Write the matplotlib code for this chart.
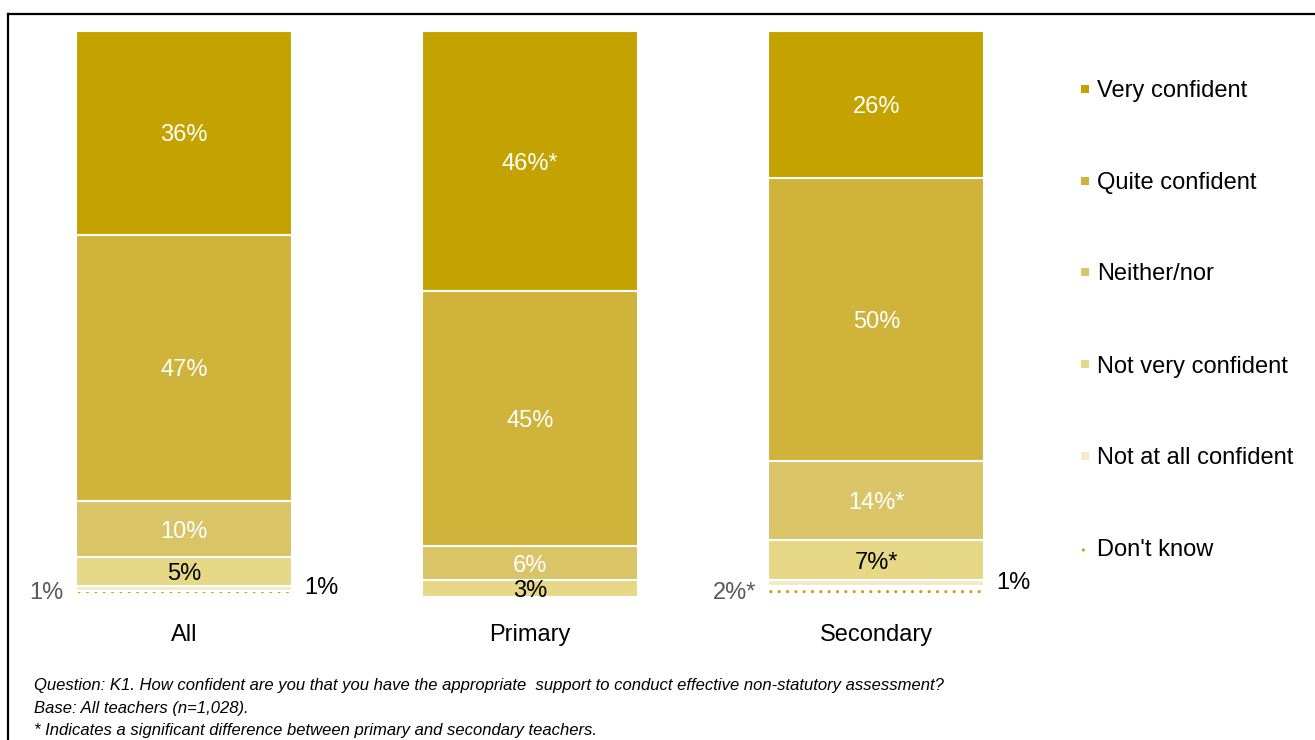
import matplotlib.pyplot as plt
import numpy as np
from matplotlib.lines import Line2D
from matplotlib.patches import Rectangle

plt.rcParams['font.family'] = ['Liberation Sans', 'DejaVu Sans']

groups = ['All', 'Primary', 'Secondary']
categories = ['Very confident', 'Quite confident', 'Neither/nor',
              'Not very confident', 'Not at all confident', "Don't know"]

very_confident = [36, 46, 26]
quite_confident = [47, 45, 50]
neither_nor = [10, 6, 14]
not_very = [5, 3, 7]
not_at_all = [1, 0, 1]
dont_know = [1, 0, 2]

# significance markers per group
very_confident_sig = ['', '*', '']
neither_nor_sig = ['', '', '*']
not_very_sig = ['', '', '*']
dont_know_sig = ['', '', '*']

colors = ['#C4A300', '#CFB33A', '#D9C468', '#E6D886', '#F3EBC8', '#C4A300']

fig = plt.figure(figsize=(13.15, 7.40), dpi=100)
ax = fig.add_axes([0.00837, 1 - 597 / 740, 0.7897, 566 / 740])

x = np.arange(len(groups))
width = 0.624

# stacked from the bottom up: (values, star markers, label colour)
stack = [
    (dont_know, None, None),
    (not_at_all, None, None),
    (not_very, not_very_sig, '#000000'),
    (neither_nor, neither_nor_sig, 'white'),
    (quite_confident, None, 'white'),
    (very_confident, very_confident_sig, 'white'),
]
stack_colors = [colors[5], colors[4], colors[3], colors[2], colors[1], colors[0]]

bottom = np.zeros(len(groups))
centers = {}
for i, (vals, sig, tcol) in enumerate(stack):
    vals = np.array(vals, dtype=float)
    if i == 0:
        ax.bar(x, vals, width, bottom=bottom, color='white',
               edgecolor=stack_colors[i], linewidth=0, hatch='..')
    else:
        ax.bar(x, vals, width, bottom=bottom, color=stack_colors[i],
               edgecolor='white', linewidth=1.5)
    centers[i] = bottom + vals / 2
    if tcol is not None:
        for j in range(len(groups)):
            if vals[j] > 0:
                s = sig[j] if sig else ''
                ax.text(x[j], bottom[j] + vals[j] / 2, f'{vals[j]:.0f}%{s}',
                        ha='center', va='center_baseline', color=tcol,
                        fontsize=17)
    bottom = bottom + vals

# small segments labelled outside the bars
gap = 0.035
for j in range(len(groups)):
    if dont_know[j] > 0:
        ax.text(x[j] - width / 2 - gap, max(centers[0][j], 1.2),
                f'{dont_know[j]}%{dont_know_sig[j]}', ha='right',
                va='center_baseline', color='#595959', fontsize=17)
    if not_at_all[j] > 0:
        ax.text(x[j] + width / 2 + gap, centers[1][j] + 0.5,
                f'{not_at_all[j]}%', ha='left', va='center_baseline',
                color='#000000', fontsize=17)

ax.set_xlim(-0.5, 2.5)
ax.set_ylim(0, 100)
ax.axis('off')

for j, g in enumerate(groups):
    ax.text(x[j], -6.3, g, ha='center', va='center_baseline', fontsize=17)

# legend
leg_y = [89, 181, 272, 364, 456, 548]
for k, (cat, col) in enumerate(zip(categories, colors)):
    yy = 1 - leg_y[k] / 740
    if k < 5:
        fig.add_artist(Rectangle((1081 / 1315, yy - 4 / 740), 8 / 1315, 8 / 740,
                                 transform=fig.transFigure, facecolor=col,
                                 edgecolor='none'))
    else:
        fig.add_artist(Rectangle((1081 / 1315, yy - 4 / 740), 8 / 1315, 8 / 740,
                                 transform=fig.transFigure, facecolor='white',
                                 edgecolor=col, linewidth=0, hatch='..'))
    fig.text(1097 / 1315, yy, cat, ha='left', va='center_baseline', fontsize=17)

# notes
notes = [
    'Question: K1. How confident are you that you have the appropriate  support to conduct effective non-statutory assessment?',
    'Base: All teachers (n=1,028).',
    '* Indicates a significant difference between primary and secondary teachers.',
]
for k, note in enumerate(notes):
    fig.text(34 / 1315, 1 - (684 + 22.5 * k) / 740, note, ha='left',
             va='center_baseline', fontsize=12, style='italic')

# frame
fig.add_artist(Line2D([8 / 1315, 8 / 1315], [0, 1 - 14 / 740],
                      transform=fig.transFigure, color='black', linewidth=1.6))
fig.add_artist(Line2D([8 / 1315, 1], [1 - 14 / 740, 1 - 14 / 740],
                      transform=fig.transFigure, color='black', linewidth=1.6))

fig.savefig('out.png', dpi=100)
